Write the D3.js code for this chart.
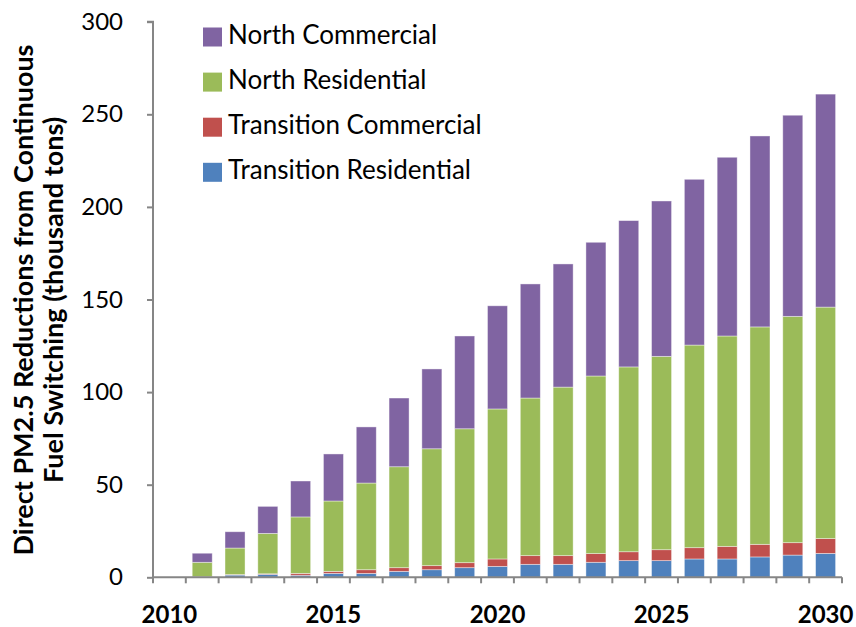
<!DOCTYPE html>
<meta charset="utf-8">
<body style="margin:0;background:#fff">
<script src="https://d3js.org/d3.v7.min.js"></script>
<script>
var width = 856, height = 627;
var margin = {top: 21.7, right: 14, bottom: 49.7, left: 153};

// data (thousand tons)
var years = [2010, 2011, 2012, 2013, 2014, 2015, 2016, 2017, 2018, 2019, 2020,
             2021, 2022, 2023, 2024, 2025, 2026, 2027, 2028, 2029, 2030];
var transitionResidential = [0, 0, 1.2, 1.6, 1.1, 2.1, 2.1, 3.2, 4.1, 5.2, 5.9,
                             7.0, 7.0, 8.1, 9.0, 9.0, 9.9, 9.9, 11.0, 12.0, 12.9];
var transitionCommercial = [0, 0.3, 0.3, 0.3, 1.0, 1.1, 2.0, 2.0, 2.2, 2.7, 4.0,
                            4.7, 4.7, 4.7, 4.8, 5.9, 6.1, 6.8, 6.8, 6.7, 8.0];
var northResidential = [0, 7.8, 14.3, 21.8, 30.5, 38.0, 46.8, 54.5, 63.1, 72.3, 81.0,
                        85.1, 91.0, 95.9, 99.8, 104.4, 109.4, 113.6, 117.4, 122.2, 125.0];
var northCommercial = [0, 4.9, 8.8, 14.6, 19.4, 25.4, 30.3, 37.1, 43.1, 50.1, 55.7,
                       61.6, 66.5, 72.2, 79.0, 83.9, 89.5, 96.5, 103.1, 108.6, 115.0];
var seriesNames = ["Transition Residential", "Transition Commercial", "North Residential", "North Commercial"];
var seriesColors = ["#4F81BD", "#C0504D", "#9BBB59", "#8064A2"];
var yTicks = [0, 50, 100, 150, 200, 250, 300];
var xLabels = [2010, 2015, 2020, 2025, 2030];

var font = "Lato, 'Open Sans', sans-serif";

var rows = years.map(function(y, i) {
  return {
    year: y,
    "Transition Residential": transitionResidential[i],
    "Transition Commercial": transitionCommercial[i],
    "North Residential": northResidential[i],
    "North Commercial": northCommercial[i]
  };
});

var svg = d3.select("body").append("svg")
    .attr("width", width)
    .attr("height", height);

var x = d3.scaleBand()
    .domain(years)
    .range([margin.left, width - margin.right])
    .paddingInner(0.39)
    .paddingOuter(0.195);

var y = d3.scaleLinear()
    .domain([0, 300])
    .range([height - margin.bottom, margin.top]);

var color = d3.scaleOrdinal().domain(seriesNames).range(seriesColors);

var stack = d3.stack().keys(seriesNames)(rows);

svg.append("g").selectAll("g")
    .data(stack)
    .enter().append("g")
    .attr("fill", function(d) { return color(d.key); })
  .selectAll("rect")
    .data(function(d) { return d; })
    .enter().append("rect")
    .attr("x", function(d) { return x(d.data.year); })
    .attr("width", x.bandwidth())
    .attr("y", function(d) { return y(d[1]); })
    .attr("height", function(d) { return y(d[0]) - y(d[1]); })
    .attr("stroke", "rgba(255,255,255,0.5)")
    .attr("stroke-width", 0.8);

// y axis
var yAxis = svg.append("g")
    .attr("transform", "translate(" + margin.left + ",0)")
    .call(d3.axisLeft(y).tickValues(yTicks).tickSize(6).tickPadding(24));
yAxis.selectAll("line, path").attr("stroke", "#868686").attr("stroke-width", 2);
yAxis.select(".domain").attr("d", "M-6," + y(300) + "H0V" + y(0));
yAxis.selectAll("text")
    .style("font-family", font)
    .style("font-size", "24px")
    .attr("fill", "#000");

// x axis: ticks at category boundaries
var step = x.step();
var bounds = years.map(function(d) { return x(d) - (step - x.bandwidth()) / 2; });
bounds.push(width - margin.right);
var xg = svg.append("g");
xg.append("line")
    .attr("x1", margin.left).attr("x2", width - margin.right)
    .attr("y1", y(0)).attr("y2", y(0))
    .attr("stroke", "#868686").attr("stroke-width", 2);
xg.selectAll("line.tick")
    .data(bounds)
    .enter().append("line")
    .attr("class", "tick")
    .attr("x1", function(d) { return d; }).attr("x2", function(d) { return d; })
    .attr("y1", y(0)).attr("y2", y(0) + 6)
    .attr("stroke", "#868686").attr("stroke-width", 2);
xg.selectAll("text")
    .data(xLabels)
    .enter().append("text")
    .attr("x", function(d) { return x(d) + x.bandwidth() / 2; })
    .attr("y", 623)
    .attr("text-anchor", "middle")
    .style("font-family", font)
    .style("font-size", "24px")
    .style("font-weight", "bold")
    .text(function(d) { return d; });

// y title
var title = svg.append("text")
    .attr("transform", "translate(0,300) rotate(-90)")
    .attr("text-anchor", "middle")
    .style("font-family", font)
    .style("font-size", "27px")
    .style("font-weight", "bold");
title.append("tspan").attr("x", 0).attr("y", 33).text("Direct PM2.5 Reductions from Continuous");
title.append("tspan").attr("x", 0).attr("y", 63).text("Fuel Switching (thousand tons)");

// legend
var legendItems = seriesNames.slice().reverse();
var legend = svg.append("g").selectAll("g")
    .data(legendItems)
    .enter().append("g")
    .attr("transform", function(d, i) { return "translate(203," + (37 + i * 45.1) + ")"; });
legend.append("rect")
    .attr("x", 0).attr("y", -9.5)
    .attr("width", 19).attr("height", 19)
    .attr("fill", function(d) { return color(d); });
legend.append("text")
    .attr("x", 25).attr("y", 7)
    .style("font-family", font)
    .style("font-size", "26px")
    .text(function(d) { return d; });
</script>
</body>
